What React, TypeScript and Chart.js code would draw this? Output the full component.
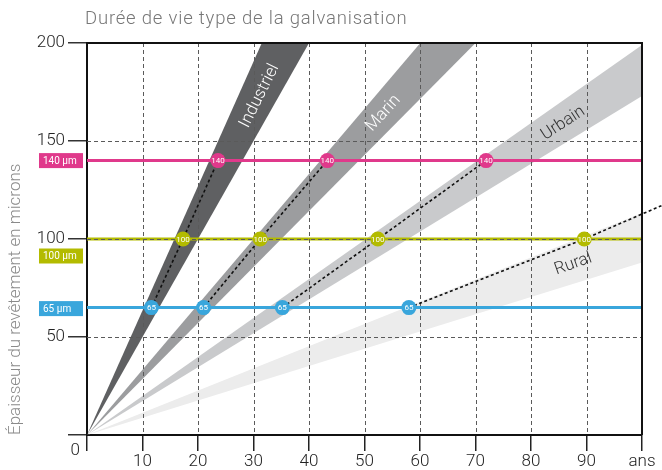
import React, { useEffect, useRef } from 'react';
import { Chart, registerables } from 'chart.js';

Chart.register(...registerables);

// ---------------- data ----------------
const CHART_TITLE = 'Durée de vie type de la galvanisation';
const Y_AXIS_TITLE = 'Épaisseur du revêtement en microns';
const X_TICK_VALUES = [0, 10, 20, 30, 40, 50, 60, 70, 80, 90, 100];
const X_TICK_LABELS = ['', '10', '20', '30', '40', '50', '60', '70', '80', '90', 'ans'];
const Y_TICK_VALUES = [0, 50, 100, 150, 200];
const Y_TICK_LABELS = ['', '50', '100', '150', '200'];
const ORIGIN_LABEL = '0';

const ZONES = ['Industriel', 'Marin', 'Urbain', 'Rural'];
// coating consumed (µm) per year : fast and slow edges of each band
const RATE_HIGH = [6.35, 3.33, 1.99, 1.133];
const RATE_LOW = [5.0, 2.857, 1.73, 0.88];
const EDGE_END_YEAR = 120;

const COATINGS = [140, 100, 65];
const COATING_LABELS = ['140 µm', '100 µm', '65 µm'];
// years of protection for each zone (Industriel, Marin, Urbain, Rural)
const YEARS_AT_140 = [23.6, 43.3, 71.9, null];
const YEARS_AT_100 = [17.3, 31.2, 52.4, 89.6];
const YEARS_AT_65 = [11.6, 21.0, 35.2, 58.0];
const RURAL_TREND_END_YEAR = 103.5;
const RURAL_TREND_END_VALUE = 117;

// ---------------- styles ----------------
const FONT = "Roboto, 'Liberation Sans', Arial, sans-serif";
const ZONE_COLORS = ['#5f6062', '#9c9d9f', '#c9cacc', '#ececec'];
const ZONE_TEXT_COLORS = ['#ffffff', '#ffffff', '#333333', '#333333'];
const ZONE_LABEL_ANCHOR_X = [31.1, 53.4, 85.8, 87.6];
const ZONE_LABEL_ANCHOR_Y = [173, 164.1, 159, 87.2];
const COATING_COLORS = ['#e0398b', '#b3bb00', '#39a6dc'];
const COATING_BOX_SHIFT = [0, 17, 1];

const yearsByCoating = [YEARS_AT_140, YEARS_AT_100, YEARS_AT_65];

function buildDatasets() {
  const ds: any[] = [];
  // circles (top)
  COATINGS.forEach((c, k) => {
    const pts: any[] = [];
    yearsByCoating[k].forEach((yr) => {
      if (yr !== null) pts.push({ x: yr, y: c });
    });
    ds.push({
      label: 'pts' + c,
      role: 'dots',
      coating: c,
      data: pts,
      showLine: false,
      pointRadius: 7.5,
      pointHoverRadius: 7.5,
      pointBackgroundColor: COATING_COLORS[k],
      pointBorderWidth: 0,
      order: 1,
    });
  });
  // dotted trends
  ZONES.forEach((z, i) => {
    const pts: any[] = [{ x: YEARS_AT_65[i], y: 65 }, { x: YEARS_AT_100[i], y: 100 }];
    if (YEARS_AT_140[i] !== null) pts.push({ x: YEARS_AT_140[i], y: 140 });
    else pts.push({ x: RURAL_TREND_END_YEAR, y: RURAL_TREND_END_VALUE });
    ds.push({
      label: 'trend ' + z,
      data: pts,
      showLine: true,
      borderColor: '#111111',
      borderWidth: 1.6,
      borderDash: [3, 2.5],
      pointRadius: 0,
      tension: 0,
      fill: false,
      clip: false,
      order: 2,
    });
  });
  // coating lines
  COATINGS.forEach((c, k) => {
    ds.push({
      label: 'line' + c,
      gridAfter: k === COATINGS.length - 1,
      data: [{ x: 0, y: c }, { x: 100, y: c }],
      showLine: true,
      borderColor: COATING_COLORS[k],
      borderWidth: 3,
      pointRadius: 0,
      fill: false,
      order: 7 - k,
    });
  });
  // bands
  ZONES.forEach((z, i) => {
    ds.push({
      label: z,
      data: [{ x: 0, y: 0 }, { x: EDGE_END_YEAR, y: RATE_HIGH[i] * EDGE_END_YEAR }],
      showLine: true,
      borderColor: 'rgba(0,0,0,0)',
      borderWidth: 0,
      backgroundColor: ZONE_COLORS[i],
      pointRadius: 0,
      tension: 0,
      fill: '+1',
      order: 10 + i,
    });
    ds.push({
      label: z + ' low',
      data: [{ x: 0, y: 0 }, { x: EDGE_END_YEAR, y: RATE_LOW[i] * EDGE_END_YEAR }],
      showLine: true,
      borderColor: 'rgba(0,0,0,0)',
      borderWidth: 0,
      pointRadius: 0,
      tension: 0,
      fill: false,
      order: 10 + i,
    });
  });
  return ds;
}

const gridPlugin = {
  id: 'gridOverBands',
  afterDatasetDraw(chart: any, args: any) {
    const d = chart.data.datasets[args.index];
    if (!d || !d.gridAfter) return;
    const { ctx, chartArea: a } = chart;
    const xs = chart.scales.x;
    const ys = chart.scales.y;
    ctx.save();
    ctx.strokeStyle = '#5a5a5a';
    ctx.lineWidth = 1;
    ctx.setLineDash([4, 3]);
    xs.ticks.forEach((t: any) => {
      if (t.value <= xs.min || t.value >= xs.max) return;
      const px = Math.round(xs.getPixelForValue(t.value)) + 0.5;
      ctx.beginPath();
      ctx.moveTo(px, a.top);
      ctx.lineTo(px, a.bottom);
      ctx.stroke();
    });
    ys.ticks.forEach((t: any) => {
      if (t.value <= ys.min || t.value >= ys.max) return;
      const py = Math.round(ys.getPixelForValue(t.value)) + 0.5;
      ctx.beginPath();
      ctx.moveTo(a.left, py);
      ctx.lineTo(a.right, py);
      ctx.stroke();
    });
    ctx.setLineDash([]);
    ctx.strokeStyle = '#111111';
    ctx.lineWidth = 2;
    const top = ys.getPixelForValue(ys.max);
    const right = xs.getPixelForValue(xs.max);
    ctx.beginPath();
    ctx.moveTo(a.left, top);
    ctx.lineTo(right + 1, top);
    ctx.moveTo(right, top);
    ctx.lineTo(right, a.bottom);
    ctx.stroke();
    ctx.restore();
  },
};

const textPlugin = {
  id: 'texts',
  afterDatasetsDraw(chart: any) {
    const { ctx } = chart;
    const xs = chart.scales.x;
    const ys = chart.scales.y;
    ctx.save();
    // zone labels
    ZONES.forEach((z, i) => {
      const mid = (RATE_HIGH[i] + RATE_LOW[i]) / 2;
      const dx = xs.getPixelForValue(10) - xs.getPixelForValue(0);
      const dy = ys.getPixelForValue(0) - ys.getPixelForValue(mid * 10);
      const ang = Math.atan2(dy, dx);
      ctx.save();
      ctx.translate(xs.getPixelForValue(ZONE_LABEL_ANCHOR_X[i]), ys.getPixelForValue(ZONE_LABEL_ANCHOR_Y[i]));
      ctx.rotate(-ang);
      ctx.font = `300 17px ${FONT}`;
      ctx.fillStyle = ZONE_TEXT_COLORS[i];
      ctx.textAlign = 'center';
      ctx.textBaseline = 'middle';
      ctx.fillText(z, 0, 0);
      ctx.restore();
    });
    // circle labels
    chart.data.datasets.forEach((d: any, idx: number) => {
      if (d.role !== 'dots') return;
      const meta = chart.getDatasetMeta(idx);
      meta.data.forEach((el: any) => {
        ctx.font = `400 8px ${FONT}`;
        ctx.fillStyle = '#ffffff';
        ctx.textAlign = 'center';
        ctx.textBaseline = 'middle';
        ctx.fillText(String(d.coating), el.x, el.y + 0.5);
      });
    });
    ctx.restore();
  },
  afterDraw(chart: any) {
    const { ctx, chartArea: a } = chart;
    const ys = chart.scales.y;
    ctx.save();
    // title
    ctx.font = `300 18.5px ${FONT}`;
    try { (ctx as any).letterSpacing = '0.8px'; } catch (e) { /* ignore */ }
    ctx.fillStyle = '#777777';
    ctx.textAlign = 'left';
    ctx.textBaseline = 'alphabetic';
    ctx.fillText(CHART_TITLE, a.left - 2, 24);
    try { (ctx as any).letterSpacing = '0px'; } catch (e) { /* ignore */ }
    // coating boxes
    COATINGS.forEach((c, k) => {
      const cy = ys.getPixelForValue(c) + COATING_BOX_SHIFT[k];
      ctx.fillStyle = COATING_COLORS[k];
      ctx.fillRect(a.left - 48, cy - 7.5, 44, 15);
      ctx.fillStyle = '#ffffff';
      ctx.font = `400 10px ${FONT}`;
      ctx.textAlign = 'left';
      ctx.textBaseline = 'middle';
      ctx.fillText(COATING_LABELS[k], a.left - 44, cy + 0.5);
    });
    // origin label
    ctx.font = `300 17px ${FONT}`;
    ctx.fillStyle = '#222222';
    ctx.textAlign = 'right';
    ctx.textBaseline = 'middle';
    ctx.fillText(ORIGIN_LABEL, a.left - 7, ys.getPixelForValue(0) + 15.5);
    ctx.restore();
  },
};

export default function App() {
  const ref = useRef<HTMLCanvasElement>(null);
  useEffect(() => {
    const chart = new Chart(ref.current as HTMLCanvasElement, {
      type: 'scatter',
      data: { datasets: buildDatasets() },
      plugins: [gridPlugin, textPlugin],
      options: {
        animation: false,
        responsive: true,
        maintainAspectRatio: false,
        events: [],
        layout: { padding: { top: 43, right: 20, bottom: 0, left: 0 } },
        plugins: { legend: { display: false }, tooltip: { enabled: false }, title: { display: false } },
        scales: {
          x: {
            type: 'linear',
            min: 0,
            max: 100,
            afterFit: (s: any) => { s.height = 35; },
            afterBuildTicks: (s: any) => { s.ticks = X_TICK_VALUES.map((v) => ({ value: v })); },
            ticks: {
              autoSkip: false,
              maxRotation: 0,
              padding: 1,
              color: '#222222',
              font: { family: FONT, size: 17, weight: '300' },
              callback: (_v: any, i: number) => X_TICK_LABELS[i],
            },
            grid: { drawOnChartArea: false, drawTicks: true, tickLength: 16, color: '#222222', lineWidth: 1.5 },
            border: { display: true, color: '#111111', width: 2 },
          },
          y: {
            type: 'linear',
            min: 0,
            max: 200,
            afterFit: (s: any) => { s.width = 87; },
            afterBuildTicks: (s: any) => { s.ticks = Y_TICK_VALUES.map((v) => ({ value: v })); },
            ticks: {
              padding: 3,
              color: '#222222',
              font: { family: FONT, size: 17, weight: '300' },
              callback: (_v: any, i: number) => Y_TICK_LABELS[i],
            },
            grid: { drawOnChartArea: false, drawTicks: true, tickLength: 19, color: '#333333', lineWidth: 1.5 },
            border: { display: true, color: '#111111', width: 2 },
            title: {
              display: true,
              text: Y_AXIS_TITLE,
              align: 'start',
              color: '#8a8a8a',
              font: { family: FONT, size: 17, weight: '300' },
              padding: { top: 6, bottom: 0 },
            },
          },
        },
      } as any,
    } as any);
    return () => chart.destroy();
  }, []);
  return (
    <div style={{ position: 'fixed', left: 0, top: 0, width: 662, height: 470, background: '#ffffff' }}>
      <canvas ref={ref} />
    </div>
  );
}
